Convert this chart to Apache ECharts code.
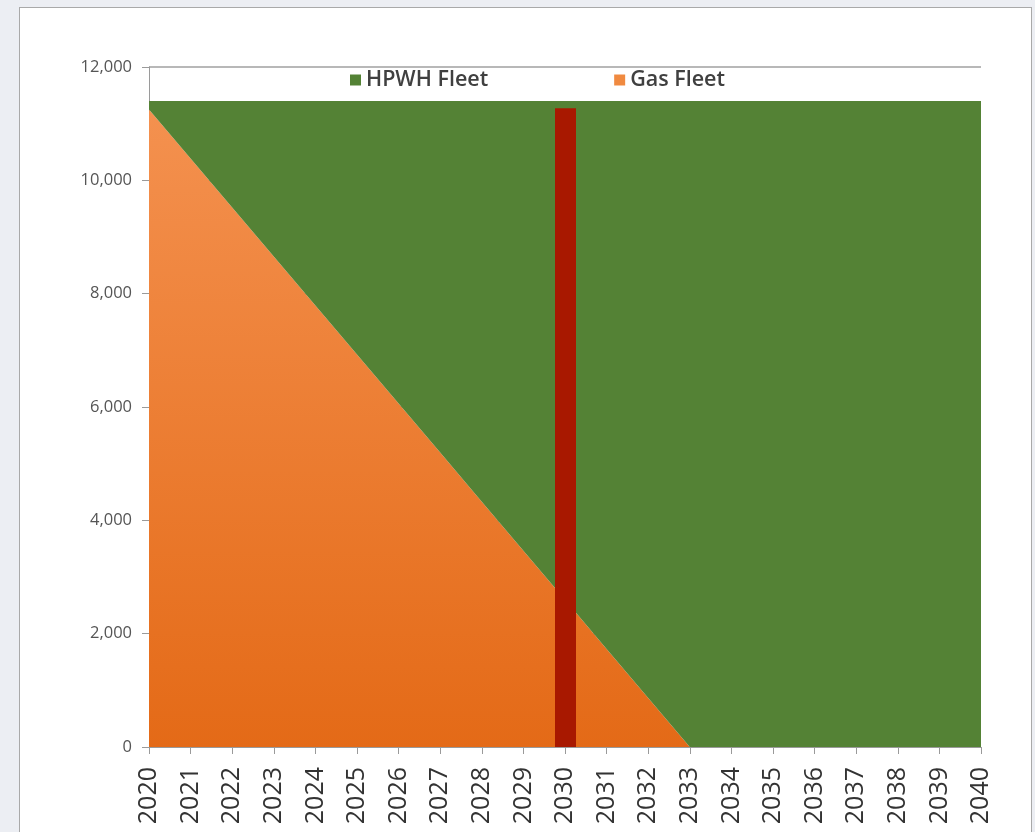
<!DOCTYPE html>
<html>
<head>
<meta charset="utf-8">
<script src="https://cdn.jsdelivr.net/npm/echarts@6/dist/echarts.min.js"></script>
<style>
html,body{margin:0;padding:0;background:#eceef3;}
#card{position:absolute;left:19px;top:7px;width:1013px;height:830px;background:#fff;border:1px solid #a9a9a9;box-sizing:border-box;}
#chart{position:absolute;left:0;top:0;width:1035px;height:832px;}
</style>
</head>
<body>
<div id="card"></div>
<div id="chart"></div>
<script>
const years = ['2020','2021','2022','2023','2024','2025','2026','2027','2028','2029','2030','2031','2032','2033','2034','2035','2036','2037','2038','2039','2040'];
const gasFleet = [11250,10385,9520,8655,7790,6925,6060,5195,4330,3465,2600,1730,865,0,0,0,0,0,0,0,0];
const hpwhFleet = [150,1015,1880,2745,3610,4475,5340,6205,7070,7935,8800,9670,10535,11400,11400,11400,11400,11400,11400,11400,11400];
const yTicks = [0,2000,4000,6000,8000,10000,12000];
const markerYear = '2030';
const markerTop = 11270;

const chart = echarts.init(document.getElementById('chart'));
chart.setOption({
  animation:false,
  backgroundColor:'transparent',
  grid:{left:149,right:54,top:67,bottom:85,containLabel:false},
  legend:{
    top:64,left:345,itemGap:126,itemWidth:11,itemHeight:11,icon:'rect',
    textStyle:{fontFamily:'Open Sans',fontSize:21.5,fontWeight:600,color:'#404040',padding:[0,0,0,0]},
    data:['HPWH Fleet','Gas Fleet']
  },
  xAxis:{
    type:'category',data:years,boundaryGap:false,
    axisLine:{lineStyle:{color:'#9a9a9a'}},
    axisTick:{show:true,length:7,alignWithLabel:true,lineStyle:{color:'#9a9a9a'}},
    axisLabel:{rotate:90,margin:20,fontFamily:'Open Sans',fontSize:25,fontWeight:500,color:'#333',interval:0}
  },
  yAxis:{
    type:'value',min:yTicks[0],max:yTicks[yTicks.length-1],interval:2000,
    axisLine:{show:true,lineStyle:{color:'#9a9a9a'}},
    axisTick:{show:true,length:7,lineStyle:{color:'#9a9a9a'}},
    splitLine:{show:true,lineStyle:{color:'#a0a0a0',width:1.5}},
    axisLabel:{margin:17,fontFamily:'Open Sans',fontSize:16.5,color:'#555',
      formatter:v=>v.toLocaleString('en-US')}
  },
  series:[
    {
      name:'Gas Fleet',type:'line',stack:'fleet',data:gasFleet,
      symbol:'none',lineStyle:{width:0},
      itemStyle:{color:'#f08a40'},
      areaStyle:{opacity:1,color:new echarts.graphic.LinearGradient(0,0,0,1,[
        {offset:0,color:'#f4914f'},{offset:1,color:'#e46a17'}])}
    },
    {
      name:'HPWH Fleet',type:'line',stack:'fleet',data:hpwhFleet,
      symbol:'none',lineStyle:{width:0},
      itemStyle:{color:'#548235'},
      areaStyle:{opacity:1,color:'#548235'},
      markLine:{
        silent:true,symbol:'none',label:{show:false},
        lineStyle:{color:'#a81800',width:21,type:'solid',cap:'butt',opacity:1},
        data:[[{coord:[markerYear,0]},{coord:[markerYear,markerTop]}]]
      }
    }
  ]
});
</script>
</body>
</html>
